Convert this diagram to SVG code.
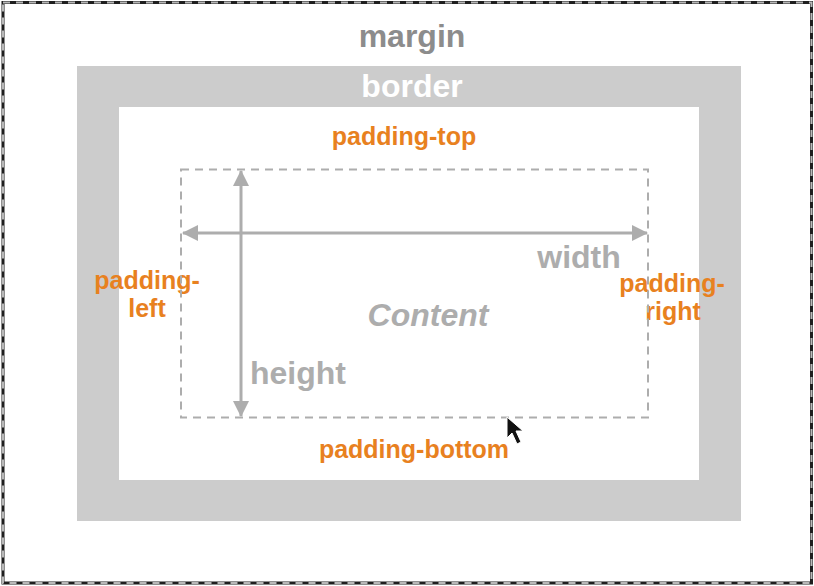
<svg xmlns="http://www.w3.org/2000/svg" width="814" height="586" viewBox="0 0 814 586">
  <style>
    .lbl { font-family: "Liberation Sans", Arial, sans-serif; font-weight: bold; text-anchor: middle; }
    .big { font-size: 32px; }
    .pad { font-size: 25px; fill: #e8811f; }
    .gray { fill: #adadad; }
    .arrow { stroke: #adadad; stroke-width: 3; fill: none; }
  </style>
  <defs>
    <marker id="ah" viewBox="0 0 16 16" refX="15" refY="8" markerWidth="16" markerHeight="16" markerUnits="userSpaceOnUse" orient="auto-start-reverse">
      <path d="M0,0 L16,8 L0,16 Z" fill="#adadad"/>
    </marker>
  </defs>
  <rect x="0" y="0" width="814" height="586" fill="#ffffff"/>
  <g id="margin">
    <rect x="3" y="2.5" width="808.5" height="580.5" fill="#ffffff" stroke="#1e1e1e" stroke-width="3"/>
    <rect x="3" y="2.5" width="808.5" height="580.5" fill="none" stroke="#b8b8b8" stroke-width="2" stroke-dasharray="7 6"/>
    <text class="lbl big" x="412" y="47" fill="#8c8c8c">margin</text>
  </g>
  <g id="border">
    <rect x="77" y="66" width="664" height="455" fill="#cccccc"/>
    <text class="lbl big" x="412" y="97" fill="#ffffff">border</text>
  </g>
  <g id="padding">
    <rect x="119" y="107" width="580" height="373" fill="#ffffff"/>
    <text class="lbl pad" x="404" y="145">padding-top</text>
    <text class="lbl pad" x="414" y="458">padding-bottom</text>
    <text class="lbl pad" x="147" y="289">padding-</text>
    <text class="lbl pad" x="147" y="317">left</text>
    <text class="lbl pad" x="672" y="292">padding-</text>
    <text class="lbl pad" x="673" y="320">right</text>
  </g>
  <g id="content">
    <rect x="181" y="169.5" width="467" height="248" fill="none" stroke="#adadad" stroke-width="2" stroke-dasharray="8 6"/>
    <text class="lbl big gray" x="428" y="326" font-style="italic">Content</text>
    <text class="lbl big gray" x="579" y="268">width</text>
    <text class="lbl big gray" x="298" y="384">height</text>
  </g>
  <g id="connectors">
    <line class="arrow" x1="183" y1="233" x2="647" y2="233" marker-start="url(#ah)" marker-end="url(#ah)"/>
    <line class="arrow" x1="241" y1="171" x2="241" y2="416" marker-start="url(#ah)" marker-end="url(#ah)"/>
  </g>
  <g id="cursor">
    <path d="M507,417 L507,438 L512,433 L517,444 L521,442 L516,431 L523,431 Z" fill="#111111" stroke="#ffffff" stroke-width="1"/>
  </g>
</svg>
